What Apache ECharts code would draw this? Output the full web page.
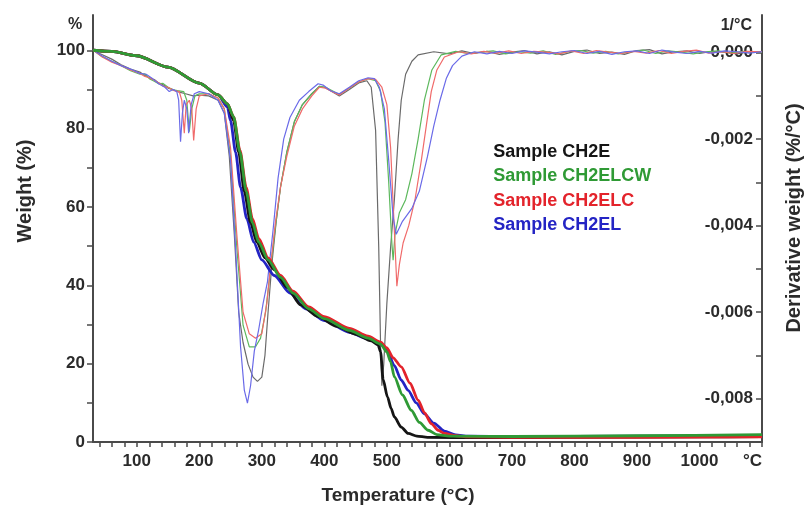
<!DOCTYPE html>
<html>
<head>
<meta charset="utf-8">
<script src="https://cdn.jsdelivr.net/npm/echarts@6/dist/echarts.min.js"></script>
<style>
  html, body { margin: 0; padding: 0; background: #fff; }
  #main { width: 807px; height: 509px; }
</style>
</head>
<body>
<div id="main"></div>
<script>
// sample names and colours
const names = ['Sample CH2E', 'Sample CH2ELCW', 'Sample CH2ELC', 'Sample CH2EL']
const tgaColors = ['#151515', '#2f9a35', '#e3232b', '#2424c4']
const dtgColors = ['#6a6a6a', '#5cb85c', '#f06a6a', '#6a6ae8']

// axis ticks / labels
const xLabels = [100, 200, 300, 400, 500, 600, 700, 800, 900, 1000, 1100]
const xTicks = [40, 60, 80, 100, 120, 140, 160, 180, 200, 220, 240, 260, 280, 300, 320, 340, 360, 380, 400, 420, 440, 460, 480, 500, 520, 540, 560, 580, 600, 620, 640, 660, 680, 700, 720, 740, 760, 780, 800, 820, 840, 860, 880, 900, 920, 940, 960, 980, 1000, 1020, 1040, 1060, 1080, 1100]
const wLabels = [0, 20, 40, 60, 80, 100]
const wTicks = [0, 10, 20, 30, 40, 50, 60, 70, 80, 90, 100]
const dLabels = [0, -0.002, -0.004, -0.006, -0.008]
const dTicks = [0, -0.001, -0.002, -0.003, -0.004, -0.005, -0.006, -0.007, -0.008, -0.009]

// weight (%) vs temperature (°C)
const tgaCH2E = [[30, 100], [60, 99.7], [100, 98.6], [150, 95.7], [200, 91.6], [230, 88.6], [245, 86.3], [255, 82], [263, 74], [272, 64], [282, 56], [292, 51], [305, 47], [320, 44], [340, 39.5], [362, 35], [390, 32], [420, 29.5], [450, 27.5], [475, 25.8], [486, 24.8], [490, 23], [494, 16], [501, 11.5], [507, 8.5], [512, 6.4], [523, 3.8], [534, 2.2], [548, 1.5], [565, 1.2], [650, 1.1], [800, 1.2], [1000, 1.3], [1100, 1.4]]
const tgaCH2ELCW = [[30, 100], [60, 99.7], [100, 98.6], [150, 95.7], [200, 91.6], [230, 88.6], [245, 86.3], [255, 83], [265, 74], [275, 64], [285, 56], [295, 51], [310, 46.5], [330, 42], [350, 38], [375, 34], [400, 31.5], [440, 28.5], [470, 26.5], [490, 25], [500, 23], [506, 20.5], [512, 16.6], [525, 12], [539, 8.1], [552, 5], [566, 3], [580, 1.9], [600, 1.5], [700, 1.4], [900, 1.6], [1100, 1.9]]
const tgaCH2ELC = [[30, 100], [60, 99.7], [100, 98.6], [150, 95.7], [200, 91.6], [230, 88.6], [245, 86.3], [255, 83], [265, 74.5], [275, 65], [285, 57], [295, 52], [310, 47], [330, 42.5], [350, 38.5], [375, 34.5], [400, 32], [440, 29], [470, 27], [490, 25.5], [500, 24], [510, 21.5], [523, 19.2], [537, 15], [550, 10.7], [560, 7.5], [571, 4.7], [582, 3], [592, 2.2], [610, 1.6], [630, 1.3], [700, 1.2], [900, 1.2], [1100, 1.3]]
const tgaCH2EL = [[30, 100], [60, 99.7], [100, 98.6], [150, 95.7], [200, 91.6], [230, 88.6], [245, 85.5], [250, 82], [258, 74], [266, 65], [276, 57], [287, 51], [300, 46.5], [320, 42.5], [345, 38], [370, 34], [400, 31], [440, 28], [470, 26.3], [490, 25], [500, 23.5], [512, 19.5], [523, 15.8], [534, 13.2], [547, 10], [560, 7.2], [575, 4.8], [592, 2.8], [610, 1.8], [630, 1.5], [700, 1.4], [900, 1.5], [1100, 1.7]]

// derivative weight (%/°C) vs temperature (°C)
const dtgCH2E = [[30, 0.00005], [45, -0.00005], [60, -0.00015], [75, -0.00028], [90, -0.00038], [105, -0.00045], [112, -0.00052], [120, -0.00058], [128, -0.00062], [135, -0.0007], [142, -0.00074], [150, -0.00082], [157, -0.00085], [165, -0.0009], [178, -0.00095], [190, -0.001], [200, -0.00098], [215, -0.001], [230, -0.0011], [240, -0.0014], [248, -0.0024], [256, -0.0042], [263, -0.006], [270, -0.0067], [278, -0.0072], [286, -0.0075], [293, -0.0076], [300, -0.0075], [305, -0.007], [310, -0.006], [316, -0.0049], [323, -0.0039], [330, -0.0031], [340, -0.0023], [352, -0.0016], [365, -0.0012], [380, -0.00095], [392, -0.00078], [400, -0.0008], [412, -0.0009], [424, -0.001], [440, -0.00085], [455, -0.0007], [468, -0.00065], [475, -0.0008], [482, -0.0018], [487, -0.0045], [490, -0.0068], [492, -0.0077], [495, -0.0072], [500, -0.0058], [506, -0.0045], [512, -0.0034], [518, -0.002], [523, -0.0011], [530, -0.0005], [540, -0.0002], [550, -0.00005], [575, 0.00002], [600, -0.00003], [620, 0.00004], [640, -0.00002], [660, 0.00003], [680, -0.00004], [700, 0.00001], [720, 0.00005], [740, -0.00003], [760, 0.00002], [780, -0.00005], [800, 0.00003], [820, 0.00006], [840, -0.00002], [860, 0.00001], [880, -0.00004], [900, 0.00005], [920, 0.00007], [940, -0.00003], [960, 0.00002], [980, 0.00004], [1000, -0.00002], [1020, 0.00003], [1040, 0.00001], [1060, -0.00003], [1080, 0.00002], [1100, 0.00001]]
const dtgCH2ELCW = [[30, 0.00006], [45, -0.0001], [60, -0.0002], [75, -0.0003], [90, -0.00042], [105, -0.0005], [113, -0.00049], [120, -0.0006], [128, -0.00066], [135, -0.00072], [142, -0.00071], [150, -0.0008], [158, -0.00086], [165, -0.00088], [175, -0.0009], [180, -0.0011], [184, -0.00183], [188, -0.0013], [193, -0.001], [200, -0.00095], [215, -0.00095], [230, -0.00105], [240, -0.0013], [250, -0.0024], [260, -0.0045], [270, -0.0063], [280, -0.0068], [290, -0.0068], [298, -0.0066], [306, -0.006], [314, -0.005], [322, -0.004], [330, -0.0031], [340, -0.0023], [352, -0.0016], [365, -0.0012], [380, -0.00095], [392, -0.00078], [402, -0.0008], [415, -0.0009], [424, -0.00097], [440, -0.00082], [455, -0.00068], [470, -0.0006], [482, -0.00065], [490, -0.0009], [497, -0.0016], [503, -0.003], [508, -0.0044], [510, -0.0048], [513, -0.0042], [520, -0.0037], [530, -0.0034], [540, -0.0028], [550, -0.002], [560, -0.0011], [572, -0.0004], [587, -0.00005], [610, 0.00003], [630, -0.00002], [650, 0.00001], [670, 0.00004], [690, -0.00003], [710, 0.00002], [730, -0.00001], [750, 0.00004], [770, -0.00004], [790, 0.00002], [810, 0.00005], [830, -0.00001], [850, 0.00003], [870, -0.00003], [890, 0.00002], [910, 0.00006], [930, -0.00002], [950, 0.00004], [970, 0.00001], [990, -0.00003], [1010, 0.00002], [1030, 0.00004], [1050, -0.00001], [1070, 0.00003], [1100, 0.00001]]
const dtgCH2ELC = [[30, 0.00006], [45, -0.0001], [60, -0.00022], [75, -0.0003], [90, -0.0004], [105, -0.00048], [113, -0.00055], [120, -0.00058], [128, -0.00064], [135, -0.0007], [143, -0.00078], [150, -0.0008], [160, -0.00088], [168, -0.0009], [172, -0.0011], [176, -0.00186], [179, -0.0012], [184, -0.0011], [188, -0.0013], [191, -0.00203], [195, -0.0013], [200, -0.001], [215, -0.00095], [230, -0.00105], [240, -0.0013], [250, -0.0022], [260, -0.0042], [270, -0.006], [280, -0.0065], [290, -0.0066], [300, -0.0065], [308, -0.0058], [315, -0.0048], [322, -0.0039], [330, -0.0031], [340, -0.0024], [352, -0.0017], [365, -0.0013], [380, -0.001], [392, -0.0008], [402, -0.00082], [415, -0.00092], [424, -0.00098], [440, -0.00082], [455, -0.00068], [470, -0.0006], [482, -0.00062], [492, -0.0008], [500, -0.0012], [506, -0.0022], [511, -0.0038], [516, -0.0054], [520, -0.0049], [526, -0.0044], [535, -0.004], [545, -0.0034], [555, -0.0025], [563, -0.0017], [571, -0.0009], [580, -0.0004], [592, -0.0001], [615, 0.00002], [635, -0.00003], [655, 0.00003], [675, -0.00001], [695, 0.00004], [715, -0.00002], [735, 0.00003], [755, 0.00001], [775, -0.00003], [795, 0.00004], [815, -0.00002], [835, 0.00005], [855, 0.00001], [875, -0.00002], [895, 0.00003], [915, -0.00001], [935, 0.00005], [955, -0.00002], [975, 0.00003], [995, 0.00006], [1015, -0.00001], [1035, 0.00002], [1055, -0.00002], [1075, 0.00003], [1100, 0.00002]]
const dtgCH2EL = [[30, 0.00006], [45, -0.00008], [60, -0.0002], [75, -0.0003], [90, -0.00038], [105, -0.00048], [115, -0.0005], [125, -0.0006], [135, -0.00072], [145, -0.0008], [152, -0.0009], [158, -0.00085], [164, -0.0009], [167, -0.0011], [170, -0.00206], [173, -0.0014], [176, -0.0011], [180, -0.0013], [183, -0.00186], [187, -0.0012], [192, -0.00095], [200, -0.0009], [215, -0.00095], [230, -0.0011], [240, -0.0014], [250, -0.0025], [258, -0.0045], [266, -0.0068], [272, -0.0078], [277, -0.0081], [282, -0.0077], [288, -0.0069], [295, -0.0064], [302, -0.0058], [309, -0.0053], [318, -0.0041], [326, -0.0029], [335, -0.002], [345, -0.0015], [360, -0.0011], [375, -0.0009], [390, -0.00072], [398, -0.00075], [410, -0.00088], [424, -0.00095], [440, -0.0008], [455, -0.00065], [470, -0.00058], [480, -0.0006], [488, -0.0008], [496, -0.0013], [503, -0.0025], [510, -0.0038], [515, -0.0042], [525, -0.0039], [540, -0.0036], [552, -0.0032], [565, -0.0024], [575, -0.0017], [585, -0.0011], [595, -0.0006], [605, -0.0003], [620, -0.00008], [640, 0.00002], [660, -0.00003], [680, 0.00003], [700, -0.00002], [720, 0.00004], [740, 0.00001], [760, -0.00003], [780, 0.00002], [800, 0.00005], [820, -0.00002], [840, 0.00003], [860, -0.00004], [880, 0.00002], [900, 0.00004], [920, -0.00002], [940, 0.00006], [960, 0.00001], [980, -0.00002], [1000, 0.00003], [1020, -0.00001], [1040, 0.00004], [1060, 0.00002], [1080, -0.00001], [1100, 0.00002]]

const tgaData = [tgaCH2E, tgaCH2ELCW, tgaCH2ELC, tgaCH2EL]
const dtgData = [dtgCH2E, dtgCH2ELCW, dtgCH2ELC, dtgCH2EL]
// stacking order of the thick curves (last one on top)
const tgaOrder = [3, 0, 2, 1]

const FONT = 'Liberation Sans, Arial, Helvetica, sans-serif'
const axisColor = '#4a4a4a'
const labelColor = '#2b2b2b'

const chart = echarts.init(document.getElementById('main'))

const series = []
dtgData.forEach((d, i) => {
  series.push({
    name: names[i], type: 'line', xAxisIndex: 0, yAxisIndex: 1,
    data: d, showSymbol: false, symbol: 'none',
    lineStyle: { width: 1.2, color: dtgColors[i] }, itemStyle: { color: dtgColors[i] },
    z: 2
  })
})
tgaOrder.forEach((i, k) => {
  series.push({
    name: names[i], type: 'line', xAxisIndex: 0, yAxisIndex: 0,
    data: tgaData[i], showSymbol: false, symbol: 'none',
    smooth: 0.25, smoothMonotone: 'x',
    lineStyle: { width: 2.8, color: tgaColors[i] }, itemStyle: { color: tgaColors[i] },
    z: 3 + k
  })
})

chart.setOption({
  animation: false,
  backgroundColor: '#fff',
  grid: { left: 93, right: 45, top: 15, bottom: 67 },
  legend: {
    orient: 'vertical', left: 481, top: 143, padding: 0,
    itemWidth: 0, itemHeight: 18, itemGap: 6.5,
    itemStyle: { opacity: 0 }, lineStyle: { opacity: 0 },
    selectedMode: false,
    data: names.map((n, i) => ({ name: n, textStyle: { color: tgaColors[i] } })),
    textStyle: { fontFamily: FONT, fontWeight: 'bold', fontSize: 18 }
  },
  xAxis: {
    type: 'value', min: 30, max: 1100,
    axisLine: { lineStyle: { color: axisColor, width: 2 } },
    axisTick: { customValues: xTicks, length: 5, lineStyle: { color: axisColor, width: 1.5 } },
    axisLabel: {
      customValues: xLabels, margin: 11, alignMaxLabel: 'right',
      color: labelColor, fontFamily: FONT, fontWeight: 'bold', fontSize: 17,
      formatter: v => (v === 1100 ? '°C' : String(v))
    },
    splitLine: { show: false }
  },
  yAxis: [
    {
      type: 'value', min: 0, max: 109, position: 'left',
      axisLine: { show: true, lineStyle: { color: axisColor, width: 2 } },
      axisTick: { show: true, customValues: wTicks, length: 6, lineStyle: { color: axisColor, width: 1.5 } },
      axisLabel: {
        customValues: wLabels, margin: 8,
        color: labelColor, fontFamily: FONT, fontWeight: 'bold', fontSize: 17
      },
      splitLine: { show: false }
    },
    {
      type: 'value', min: -0.009, max: 0.00087, position: 'right',
      axisLine: { show: true, lineStyle: { color: axisColor, width: 2 } },
      axisTick: { show: true, inside: true, customValues: dTicks, length: 6, lineStyle: { color: axisColor, width: 1.5 } },
      axisLabel: {
        customValues: dLabels, inside: true, margin: 9,
        color: labelColor, fontFamily: FONT, fontWeight: 'bold', fontSize: 17,
        formatter: v => v.toFixed(3).replace('.', ',')
      },
      splitLine: { show: false }
    }
  ],
  graphic: [
    { type: 'text', x: 75, y: 25, style: { text: '%', font: 'bold 16px ' + FONT, fill: labelColor, textAlign: 'center', textVerticalAlign: 'middle' } },
    { type: 'text', x: 752, y: 26, style: { text: '1/°C', font: 'bold 16px ' + FONT, fill: labelColor, textAlign: 'right', textVerticalAlign: 'middle' } },
    { type: 'text', x: 25, y: 191, rotation: Math.PI / 2, style: { text: 'Weight (%)', font: 'bold 20px ' + FONT, fill: labelColor, textAlign: 'center', textVerticalAlign: 'middle' } },
    { type: 'text', x: 794, y: 218, rotation: Math.PI / 2, style: { text: 'Derivative weight (%/°C)', font: 'bold 20px ' + FONT, fill: labelColor, textAlign: 'center', textVerticalAlign: 'middle' } },
    { type: 'text', x: 398, y: 496, style: { text: 'Temperature (°C)', font: 'bold 19px ' + FONT, fill: labelColor, textAlign: 'center', textVerticalAlign: 'middle' } }
  ],
  series
})
</script>
</body>
</html>
